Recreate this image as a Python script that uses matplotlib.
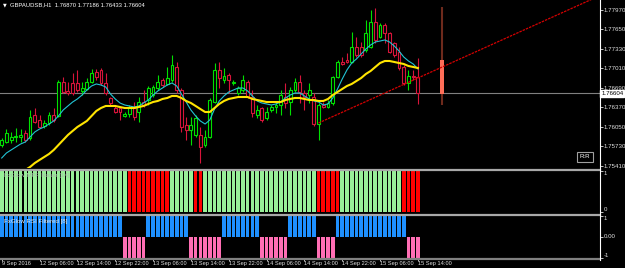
import matplotlib
matplotlib.use('Agg')
import matplotlib.pyplot as plt
import matplotlib.transforms as mtransforms
from matplotlib.lines import Line2D

# GBPAUD H1 chart, MT4 look

FONT = ['Liberation Sans', 'DejaVu Sans']
BULL = '#00e000'
BEAR = '#d8143a'
TXT = '#e0e0e0'

time_labels = ['9 Sep 2016', '12 Sep 06:00', '12 Sep 14:00', '12 Sep 22:00',
               '13 Sep 06:00', '13 Sep 14:00', '13 Sep 22:00', '14 Sep 06:00',
               '14 Sep 14:00', '14 Sep 22:00', '15 Sep 06:00', '15 Sep 14:00']
label_step = 8

opens = [1.75755, 1.75804, 1.75837, 1.75886, 1.75886, 1.75952, 1.75870, 1.76247, 1.76165, 1.76067,
         1.76116, 1.76247, 1.76231, 1.76788, 1.76641, 1.76772, 1.76772, 1.76641, 1.76674, 1.76788,
         1.76953, 1.76986, 1.76772, 1.76526, 1.76362, 1.76362, 1.76231, 1.76263, 1.76362, 1.76296,
         1.76460, 1.76493, 1.76575, 1.76690, 1.76821, 1.76756, 1.76821, 1.77035, 1.76657, 1.76083,
         1.76001, 1.75919, 1.75919, 1.75755, 1.75886, 1.76460, 1.76986, 1.76821, 1.76903, 1.76772,
         1.76608, 1.76657, 1.76788, 1.76542, 1.76247, 1.76362, 1.76198, 1.76329, 1.76378, 1.76411,
         1.76542, 1.76460, 1.76657, 1.76788, 1.76608, 1.76575, 1.76542, 1.76099, 1.76411, 1.76378,
         1.76444, 1.76870, 1.77117, 1.77150, 1.77117, 1.77363, 1.77363, 1.77314, 1.77363, 1.77773,
         1.77527, 1.77724, 1.77592, 1.77428, 1.77281, 1.77035, 1.76772, 1.76887, 1.76870]
highs = [1.75870, 1.76017, 1.75968, 1.76034, 1.76017, 1.76001, 1.76329, 1.76362, 1.76247, 1.76165,
         1.76296, 1.76362, 1.76821, 1.76870, 1.76788, 1.76936, 1.76986, 1.76788, 1.76854, 1.77002,
         1.77002, 1.77018, 1.76936, 1.76542, 1.76411, 1.76378, 1.76296, 1.76411, 1.76460, 1.76542,
         1.76657, 1.76723, 1.76739, 1.76903, 1.76854, 1.77035, 1.77232, 1.77117, 1.76690, 1.76214,
         1.76214, 1.76247, 1.76050, 1.76001, 1.76526, 1.77100, 1.77117, 1.77018, 1.76936, 1.76821,
         1.76723, 1.76903, 1.76821, 1.76657, 1.76411, 1.76378, 1.76378, 1.76411, 1.76460, 1.76657,
         1.76772, 1.76706, 1.76854, 1.76903, 1.76657, 1.76772, 1.76608, 1.76444, 1.76460, 1.76493,
         1.76887, 1.77150, 1.77199, 1.77264, 1.77609, 1.77527, 1.77445, 1.77806, 1.77970, 1.78003,
         1.77757, 1.77757, 1.77609, 1.77445, 1.77363, 1.77068, 1.76986, 1.76986, 1.77186]
lows = [1.75722, 1.75788, 1.75788, 1.75804, 1.75804, 1.75804, 1.75837, 1.76116, 1.76034, 1.76034,
        1.76083, 1.76132, 1.76214, 1.76608, 1.76575, 1.76575, 1.76624, 1.76575, 1.76657, 1.76772,
        1.76821, 1.76739, 1.76575, 1.76411, 1.76280, 1.76165, 1.76214, 1.76214, 1.76165, 1.76132,
        1.76378, 1.76411, 1.76542, 1.76657, 1.76706, 1.76739, 1.76788, 1.76608, 1.75968, 1.75837,
        1.75755, 1.75886, 1.75459, 1.75722, 1.75870, 1.76444, 1.76690, 1.76772, 1.76608, 1.76739,
        1.76575, 1.76624, 1.76526, 1.76214, 1.76198, 1.76132, 1.76165, 1.76296, 1.76280, 1.76247,
        1.76362, 1.76247, 1.76624, 1.76444, 1.76329, 1.76444, 1.76067, 1.75837, 1.76362, 1.76362,
        1.76411, 1.76854, 1.77068, 1.77100, 1.77100, 1.77199, 1.77199, 1.77281, 1.77346, 1.77428,
        1.77511, 1.77428, 1.77264, 1.77199, 1.76986, 1.76739, 1.76657, 1.76821, 1.76433]
closes = [1.75837, 1.75952, 1.75886, 1.75902, 1.75919, 1.75837, 1.76214, 1.76132, 1.76050, 1.76116,
          1.76247, 1.76165, 1.76788, 1.76624, 1.76608, 1.76608, 1.76657, 1.76690, 1.76788, 1.76936,
          1.76870, 1.76772, 1.76608, 1.76444, 1.76296, 1.76296, 1.76263, 1.76362, 1.76214, 1.76460,
          1.76411, 1.76690, 1.76706, 1.76788, 1.76739, 1.76854, 1.77068, 1.76657, 1.76050, 1.76001,
          1.76083, 1.76198, 1.75722, 1.75886, 1.76493, 1.76986, 1.76854, 1.76887, 1.76821, 1.76788,
          1.76690, 1.76821, 1.76542, 1.76280, 1.76329, 1.76165, 1.76296, 1.76378, 1.76411, 1.76575,
          1.76444, 1.76657, 1.76788, 1.76624, 1.76542, 1.76657, 1.76099, 1.76411, 1.76378, 1.76444,
          1.76870, 1.77117, 1.77084, 1.77117, 1.77363, 1.77232, 1.77232, 1.77592, 1.77773, 1.77478,
          1.77724, 1.77592, 1.77281, 1.77232, 1.77018, 1.76772, 1.76887, 1.76870, 1.76604]

ma_fast = [1.75541, 1.75623, 1.75673, 1.75722, 1.75771, 1.75804, 1.75886, 1.75968, 1.76017, 1.76050,
           1.76099, 1.76149, 1.76231, 1.76329, 1.76395, 1.76460, 1.76510, 1.76575, 1.76657, 1.76723,
           1.76756, 1.76739, 1.76706, 1.76592, 1.76510, 1.76444, 1.76411, 1.76395, 1.76378, 1.76395,
           1.76444, 1.76493, 1.76575, 1.76641, 1.76690, 1.76739, 1.76772, 1.76723, 1.76592, 1.76460,
           1.76329, 1.76231, 1.76149, 1.76099, 1.76165, 1.76345, 1.76477, 1.76559, 1.76624, 1.76657,
           1.76690, 1.76690, 1.76641, 1.76559, 1.76477, 1.76444, 1.76428, 1.76411, 1.76428, 1.76460,
           1.76526, 1.76575, 1.76608, 1.76608, 1.76559, 1.76510, 1.76477, 1.76460, 1.76411, 1.76428,
           1.76526, 1.76674, 1.76838, 1.76986, 1.77100, 1.77166, 1.77248, 1.77330, 1.77396, 1.77445,
           1.77461, 1.77478, 1.77445, 1.77379, 1.77297, 1.77199, 1.77133, 1.77084, 1.77002]
ma_slow = [float('nan'), float('nan'), 1.75148, 1.75213, 1.75279, 1.75345, 1.75394, 1.75459, 1.75509, 1.75558,
           1.75607, 1.75673, 1.75755, 1.75837, 1.75919, 1.75985, 1.76050, 1.76099, 1.76149, 1.76231,
           1.76313, 1.76362, 1.76395, 1.76395, 1.76395, 1.76378, 1.76362, 1.76362, 1.76362, 1.76378,
           1.76395, 1.76428, 1.76460, 1.76477, 1.76510, 1.76526, 1.76559, 1.76559, 1.76526, 1.76477,
           1.76444, 1.76395, 1.76345, 1.76296, 1.76296, 1.76362, 1.76428, 1.76477, 1.76510, 1.76526,
           1.76542, 1.76542, 1.76542, 1.76510, 1.76493, 1.76477, 1.76460, 1.76460, 1.76460, 1.76460,
           1.76493, 1.76510, 1.76526, 1.76526, 1.76510, 1.76493, 1.76493, 1.76477, 1.76477, 1.76510,
           1.76575, 1.76624, 1.76674, 1.76723, 1.76756, 1.76805, 1.76854, 1.76920, 1.76969, 1.77035,
           1.77100, 1.77133, 1.77133, 1.77117, 1.77100, 1.77084, 1.77051, 1.77035, 1.77018]

# 1 = bull (light green), 0 = bear (red)
mpf_state = [1, 1, 1, 1, 1, 1, 1, 1, 1, 1, 1, 1, 1, 1, 1, 1, 1, 1, 1, 1,
             1, 1, 1, 1, 1, 1, 1, 0, 0, 0, 0, 0, 0, 0, 0, 0, 1, 1, 1, 1,
             1, 0, 0, 1, 1, 1, 1, 1, 1, 1, 1, 1, 1, 1, 1, 1, 1, 1, 1, 1,
             1, 1, 1, 1, 1, 1, 1, 0, 0, 0, 0, 0, 1, 1, 1, 1, 1, 1, 1, 1,
             1, 1, 1, 1, 1, 0, 0, 0, 0]
rsi_filter = [1, 1, 1, 1, 1, 1, 1, 1, 1, 1, 1, 1, 1, 1, 1, 1, 1, 1, 1, 1,
              1, 1, 1, 1, 1, 1, -1, -1, -1, -1, -1, 1, 1, 1, 1, 1, 1, 1, 1, 1,
              -1, -1, -1, -1, -1, -1, -1, 1, 1, 1, 1, 1, 1, 1, 1, -1, -1, -1, -1, -1,
              -1, 1, 1, 1, 1, 1, 1, -1, -1, -1, -1, 1, 1, 1, 1, 1, 1, 1, 1, 1,
              1, 1, 1, 1, 1, 1, -1, -1, -1]

price_ticks = [1.77970, 1.77650, 1.77330, 1.77010, 1.76690, 1.76370, 1.76050, 1.75730, 1.75410]
last_price = 1.76604

trend_bars = [67, 88]
trend_prices = [1.76116, 1.76854]

proj_bar = 93
proj_high, proj_low = 1.78019, 1.76411
proj_top, proj_bottom = 1.77150, 1.76592

W, H = 625, 268
fig = plt.figure(figsize=(W / 100, H / 100), dpi=100, facecolor='black')

def fy(px):
    return 1 - px / H

right = 600 / W
ax = fig.add_axes([0, fy(168), right, 168 / H])
ax1 = fig.add_axes([0, fy(212), right, 41 / H])
ax2 = fig.add_axes([0, fy(258), right, 42 / H])

n = len(closes)
idx = list(range(n))
xlim = (-0.36, 126.5)

for a in (ax, ax1, ax2):
    a.set_facecolor('black')
    a.set_xlim(*xlim)
    for s in a.spines.values():
        s.set_visible(False)
    a.yaxis.tick_right()
    a.tick_params(axis='y', colors=TXT, length=2, width=0.6, pad=0.8, labelsize=4.4)
    a.tick_params(axis='x', bottom=False, labelbottom=False)

# main price panel
ax.set_ylim(1.75377, 1.78134)
ax.axhline(last_price, color='#808080', lw=0.8, zorder=1)

cols = [BULL if c >= o else BEAR for o, c in zip(opens, closes)]
ax.vlines(idx, lows, highs, colors=cols, lw=0.8, zorder=2)
bottoms = [min(o, c) for o, c in zip(opens, closes)]
heights = [max(abs(c - o), 0.00003) for o, c in zip(opens, closes)]
ax.bar(idx, heights, bottom=bottoms, width=0.6, facecolor='black',
       edgecolor=cols, linewidth=0.8, zorder=3)

ax.plot(idx, ma_fast, color='#22c4d4', lw=0.8, zorder=4)
ax.plot(idx, ma_slow, color='#ffe400', lw=1.5, zorder=5)

# projected bar
ax.vlines(proj_bar, proj_low, proj_high, colors='#6e2a1c', lw=1.5, zorder=2)
ax.bar(proj_bar, proj_top - proj_bottom, bottom=proj_bottom, width=0.85,
       color='#ff6e58', linewidth=0, zorder=3)

# trend ray
slope = (trend_prices[1] - trend_prices[0]) / (trend_bars[1] - trend_bars[0])
x_end = xlim[1]
ax.plot([trend_bars[0], x_end],
        [trend_prices[0], trend_prices[0] + slope * (x_end - trend_bars[0])],
        color='#d40000', lw=0.9, ls=(0, (2, 0.8)), zorder=6)

ax.set_yticks(price_ticks)
ax.set_yticklabels(['%.5f' % p for p in price_ticks], family=FONT)

tr = mtransforms.blended_transform_factory(ax.transAxes, ax.transData)
ax.text(1.002, last_price, '%.5f' % last_price, transform=tr, fontsize=4.4,
        family=FONT, color='black', va='center', ha='left', clip_on=False,
        bbox=dict(facecolor='white', edgecolor='white', pad=0.7), zorder=10)

ax.text(3 / 600, 1 - 5 / 168, '\u25bc', transform=ax.transAxes, fontsize=3.5,
        color='white', va='center', ha='left', family=['DejaVu Sans'])
ax.text(10 / 600, 1 - 5 / 168, 'GBPAUDSB,H1  1.76870 1.77186 1.76433 1.76604',
        transform=ax.transAxes, fontsize=4.2, color='white', va='center',
        ha='left', family=FONT)
ax.text(585 / 600, 1 - 157 / 168, 'R:R', transform=ax.transAxes, fontsize=4.4,
        color='white', va='center', ha='center', family=FONT,
        bbox=dict(facecolor='black', edgecolor='#a0a0a0', lw=0.8, pad=1.8))

# MPF panel
ax1.set_ylim(0, 1)
ax1.bar(idx, [1] * n, width=0.78,
        color=['#98f098' if s == 1 else '#ff0000' for s in mpf_state], linewidth=0)
ax1.set_yticks([0, 1])
ax1.set_yticklabels(['0', '1'], family=FONT)
for lab, va in zip(ax1.get_yticklabels(), ['bottom', 'top']):
    lab.set_va(va)
ax1.text(4 / 600, 0.88, 'FxGlow MPF Nasar [14]', transform=ax1.transAxes,
         fontsize=4.4, color='#a8b8a8', va='center', ha='left', family=FONT)

# RSI filter panel
ax2.set_ylim(-1, 1)
ax2.bar(idx, rsi_filter, width=0.78,
        color=['#1e90ff' if v > 0 else '#ff6eb4' for v in rsi_filter], linewidth=0)
ax2.set_yticks([-1, 0, 1])
ax2.set_yticklabels(['-1', '0.00', '1'], family=FONT)
for lab, va in zip(ax2.get_yticklabels(), ['bottom', 'center', 'top']):
    lab.set_va(va)
ax2.text(4 / 600, 0.86, 'FxGlow RSI Filtered [8]', transform=ax2.transAxes,
         fontsize=4.4, color='#e8e8e8', va='center', ha='left', family=FONT)

ticks = list(range(0, n, label_step))
ax2.set_xticks(ticks)
ax2.set_xticklabels(time_labels, ha='left', family=FONT)
ax2.tick_params(axis='x', bottom=True, labelbottom=True, colors=TXT,
                length=2, width=0.6, pad=0.5, labelsize=4.1)

# panel separators and right axis line
for py, c in [(169.5, '#a8a8a8'), (214.5, '#a8a8a8'), (259.3, '#808080')]:
    fig.add_artist(Line2D([0, right], [fy(py), fy(py)], transform=fig.transFigure,
                          color=c, lw=1.6))
fig.add_artist(Line2D([right, right], [1, fy(259.5)], transform=fig.transFigure,
                      color='white', lw=0.8))

fig.savefig('out.png', dpi=100, facecolor='black')
